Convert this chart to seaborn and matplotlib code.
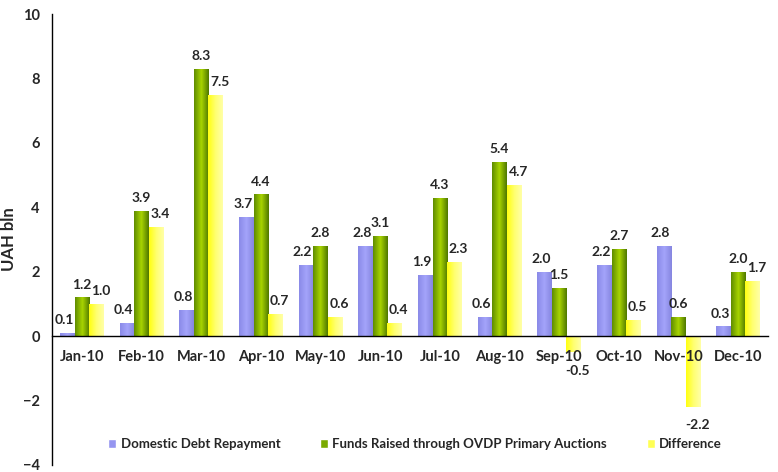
import numpy as np
import pandas as pd
import matplotlib
matplotlib.use("Agg")
import matplotlib.pyplot as plt
from matplotlib.colors import LinearSegmentedColormap
from matplotlib.patches import Patch
import seaborn as sns

# data
months = ["Jan-10", "Feb-10", "Mar-10", "Apr-10", "May-10", "Jun-10",
          "Jul-10", "Aug-10", "Sep-10", "Oct-10", "Nov-10", "Dec-10"]
repayment = [0.1, 0.4, 0.8, 3.7, 2.2, 2.8, 1.9, 0.6, 2.0, 2.2, 2.8, 0.3]
raised = [1.2, 3.9, 8.3, 4.4, 2.8, 3.1, 4.3, 5.4, 1.5, 2.7, 0.6, 2.0]
difference = [1.0, 3.4, 7.5, 0.7, 0.6, 0.4, 2.3, 4.7, -0.5, 0.5, -2.2, 1.7]
series = ["Domestic Debt Repayment", "Funds Raised through OVDP Primary Auctions", "Difference"]

df = pd.DataFrame({
    "month": months * 3,
    "value": repayment + raised + difference,
    "series": [series[0]] * 12 + [series[1]] * 12 + [series[2]] * 12,
})

sns.set_style("white")
plt.rcParams["font.family"] = ["Lato", "DejaVu Sans"]

flat = ["#9595f0", "#7aaa00", "#ffff55"]
grads = [
    ["#8a8ae8", "#a4a4fa", "#8686e0"],
    ["#5f8c00", "#a8d400", "#4f7800"],
    ["#ffff10", "#ffff70", "#ffffa8"],
]
label_shift = [-2.5, 0, 3]  # small sideways nudge of value labels, in points

fig = plt.figure(figsize=(7.78, 4.72), dpi=100)
ax = fig.add_axes([0.067, 0.015, 0.92, 0.955])

sns.barplot(data=df, x="month", y="value", hue="series", palette=flat,
            width=0.73, ax=ax, legend=False, saturation=1, zorder=1)

# gradient fill clipped to each bar
for cont, cols, dx in zip(ax.containers, grads, label_shift):
    cmap = LinearSegmentedColormap.from_list("g", cols)
    grad = np.linspace(0, 1, 64).reshape(1, -1)
    for bar in cont:
        x, y = bar.get_x(), bar.get_y()
        w, h = bar.get_width(), bar.get_height()
        im = ax.imshow(grad, extent=[x, x + w, y, y + h], aspect="auto",
                       cmap=cmap, zorder=1.1)
        im.set_clip_path(bar)
    vals = cont.datavalues
    pos = [f"{v:.1f}" if v >= 0 else "" for v in vals]
    neg = [f"{v:.1f}" if v < 0 else "" for v in vals]
    texts = ax.bar_label(cont, labels=pos, padding=5, fontsize=10, fontweight="bold", zorder=6)
    texts += ax.bar_label(cont, labels=neg, padding=9, fontsize=10, fontweight="bold", zorder=6)
    for t in texts:
        t.xyann = (dx, t.xyann[1])

ax.set_xlim(-0.5, 11.5)
ax.set_ylim(-4, 10)
ax.set_yticks(range(-4, 11, 2))
ax.set_ylabel("UAH bln", fontsize=12, fontweight="bold", labelpad=4)
ax.set_xlabel("")

for s in ["top", "right"]:
    ax.spines[s].set_visible(False)
ax.spines["bottom"].set_position(("data", 0))
for s in ["left", "bottom"]:
    ax.spines[s].set_color("black")
    ax.spines[s].set_linewidth(1)
    ax.spines[s].set_zorder(5)

ax.tick_params(axis="y", length=3, color="#aaaaaa", labelsize=10.5, pad=6)
ax.tick_params(axis="x", length=0, labelsize=10.5, pad=10)
for t in ax.get_yticklabels() + ax.get_xticklabels():
    t.set_fontweight("bold")
ax.set_xticks(np.arange(-0.5, 12, 1), minor=True)
ax.tick_params(axis="x", which="minor", length=4, color="#aaaaaa")
ax.xaxis.set_zorder(6)
ax.yaxis.set_zorder(6)

handles = [Patch(facecolor=c, label=l) for c, l in zip(flat, series)]
ax.legend(handles=handles, loc="center", bbox_to_anchor=(0.507, 0.046), ncol=3,
          frameon=False, handlelength=0.6, handleheight=0.7,
          handletextpad=0.35, columnspacing=3.0,
          prop={"size": 9.5, "weight": "bold"})

fig.savefig("out.png", dpi=100)
